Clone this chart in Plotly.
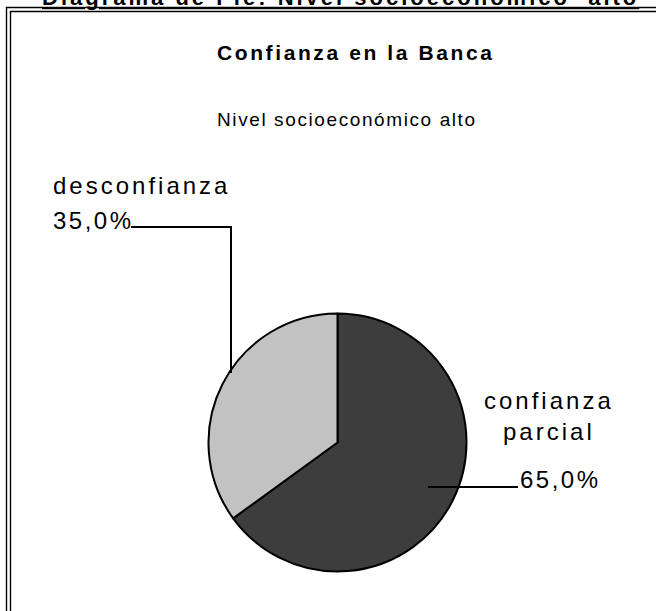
import plotly.graph_objects as go

# datos
categorias = ['confianza parcial', 'desconfianza']
porcentajes = [65.0, 35.0]
colores = ['#3d3d3d', '#c2c2c2']

titulo = 'Diagrama de Pie: Nivel socioeconómico  alto'
titulo_graf = 'Confianza en la Banca'
subtitulo = 'Nivel socioeconómico alto'

W, H = 656, 611


def px(x):
    return x / W


def py(y):
    # y en pixeles desde arriba -> papel
    return 1 - y / H


def esp(txt, ls):
    # espaciado entre letras como en el original
    return f'<span style="letter-spacing:{ls}px">{txt}</span>'


def pct(v):
    return f'{v:.1f}'.replace('.', ',') + '%'


cx, cy, r = 337.5, 442.5, 129

fig = go.Figure(go.Pie(
    labels=categorias,
    values=porcentajes,
    sort=False,
    direction='clockwise',
    rotation=0,
    textinfo='none',
    hoverinfo='label+percent',
    marker=dict(colors=colores, line=dict(color='black', width=2)),
    domain=dict(x=[px(cx - r), px(cx + r)], y=[py(cy + r), py(cy - r)]),
    showlegend=False,
))

anotaciones = [
    dict(text='<b><u>' + esp(titulo, 3) + '</u></b>', x=px(340.5), y=py(12),
         xanchor='center', yanchor='bottom', font=dict(size=22)),
    dict(text='<b>' + esp(titulo_graf, 2.6) + '</b>', x=px(356), y=py(52.7),
         xanchor='center', yanchor='middle', font=dict(size=21)),
    dict(text=esp(subtitulo, 1.6), x=px(347), y=py(119),
         xanchor='center', yanchor='middle', font=dict(size=19)),
    dict(text=esp(categorias[1], 3), x=px(51), y=py(185),
         xanchor='left', yanchor='middle', font=dict(size=24)),
    dict(text=esp(pct(porcentajes[1]), 2.5), x=px(51), y=py(220),
         xanchor='left', yanchor='middle', font=dict(size=24)),
    dict(text=esp('confianza', 3) + '<br>' + esp('parcial', 3), x=px(549), y=py(415.5),
         xanchor='center', yanchor='middle', font=dict(size=24)),
    dict(text=esp(pct(porcentajes[0]), 2.5), x=px(518), y=py(479),
         xanchor='left', yanchor='middle', font=dict(size=24)),
]
for a in anotaciones:
    a.update(xref='paper', yref='paper', showarrow=False)
    a['font'].update(color='black')

formas = [
    # marco doble (cortado a la derecha y abajo)
    dict(type='rect', x0=px(6.5), x1=1.2, y0=-0.2, y1=py(7.5),
         line=dict(color='black', width=1.4)),
    dict(type='rect', x0=px(10.5), x1=1.2, y0=-0.2, y1=py(11.5),
         line=dict(color='black', width=1.4)),
    # lineas guia
    dict(type='path', path=f'M {px(131)} {py(227)} L {px(231)} {py(227)} L {px(231)} {py(373)}',
         line=dict(color='black', width=2)),
    dict(type='line', x0=px(428), x1=px(518), y0=py(487), y1=py(487),
         line=dict(color='black', width=2)),
]
for f in formas:
    f.update(xref='paper', yref='paper')

fig.update_layout(
    width=W, height=H,
    margin=dict(l=0, r=0, t=0, b=0),
    paper_bgcolor='white',
    plot_bgcolor='white',
    font=dict(family='Liberation Sans, Arial, sans-serif', color='black'),
    annotations=anotaciones,
    shapes=formas,
)

fig.write_html('out.html', config={'displayModeBar': False},
               post_script="document.body.style.margin='0';")
